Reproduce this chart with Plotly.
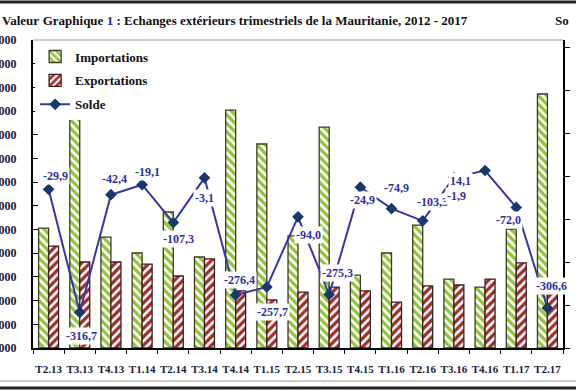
import plotly.graph_objects as go

# ---------------- data ----------------
quarters = ["T2.13", "T3.13", "T4.13", "T1.14", "T2.14", "T3.14", "T4.14", "T1.15", "T2.15",
            "T3.15", "T4.15", "T1.16", "T2.16", "T3.16", "T4.16", "T1.17", "T2.17"]
importations = [50600, 120000, 46800, 40100, 57400, 38400, 100400, 86100, 47300,
                93200, 30800, 40100, 51900, 29100, 25700, 50200, 107200]
exportations = [43000, 36300, 36300, 35400, 30400, 37600, 24100, 20300, 23600,
                25700, 24100, 19400, 26200, 26600, 29100, 35900, 23600]
solde = [-29.9, -316.7, -42.4, -19.1, -107.3, -3.1, -276.4, -257.7, -94.0,
         -275.3, -24.9, -74.9, -103.3, -1.9, 14.1, -72.0, -306.6]

left_tick_values = [0, 10000, 20000, 30000, 40000, 50000, 60000, 70000, 80000,
                    90000, 100000, 110000, 120000, 130000]
left_tick_labels = ["000"] * len(left_tick_values)
right_tick_values = [-400, -300, -200, -100, 0, 100, 200, 300]

# label offsets (pixels) for the Solde value labels
label_dx = [7, 2, 4, 5, 5, 0, 4, 6, 10, 8, 2, 5, 10, 3, -25, -8, 4]
label_dy = [13, -24, 16, 13, -16, -20, 15, -25, -18, 22, -13, 21, 19, -19, -11, -13, 22]

# ---------------- geometry ----------------
W, H = 576, 392
ML, MR, MT, MB = 33, 13, 40, 44
PW, PH = W - ML - MR, H - MT - MB


def px_x(x):
    return (x - ML) / PW


def px_y(y):
    return (H - MB - y) / PH


SERIF = "Liberation Serif"
BLUE_TXT = "#2E2EA0"

fig = go.Figure()

fig.add_trace(go.Bar(
    x=quarters, y=importations, name="Importations", legendgroup="a",
    marker=dict(color="#9CC53A", line=dict(color="#3B3B1E", width=1.3),
                pattern=dict(shape="\\", fillmode="replace", bgcolor="white",
                             fgcolor="#94C23A", size=6, solidity=0.55)),
))
fig.add_trace(go.Bar(
    x=quarters, y=exportations, name="Exportations", legendgroup="b",
    marker=dict(color="#9E2B2B", line=dict(color="#3B1E1E", width=1.3),
                pattern=dict(shape="/", fillmode="replace", bgcolor="white",
                             fgcolor="#A02C2C", size=6, solidity=0.55)),
))
fig.add_trace(go.Scatter(
    x=quarters, y=solde, name="Solde", yaxis="y2", legendgroup="c",
    mode="lines+markers",
    line=dict(color="#3535A8", width=2),
    marker=dict(symbol="diamond", size=9, color="#16386B"),
))

# value labels
for q, v, dx, dy in zip(quarters, solde, label_dx, label_dy):
    fig.add_annotation(
        x=q, y=v, xref="x", yref="y2", text=f"{v:.1f}".replace(".", ","),
        showarrow=False, xshift=dx, yshift=dy, bgcolor="white",
        font=dict(family=SERIF, size=12, color=BLUE_TXT, weight="bold"),
        borderpad=1,
    )

# side captions
fig.add_annotation(x=px_x(0), y=px_y(20), xref="paper", yref="paper", text="Valeur",
                   showarrow=False, xanchor="left", yanchor="middle",
                   font=dict(family=SERIF, size=13, color="#111", weight="bold"))
fig.add_annotation(x=px_x(553), y=px_y(20), xref="paper", yref="paper", text="So",
                   showarrow=False, xanchor="left", yanchor="middle",
                   font=dict(family=SERIF, size=13, color="#111", weight="bold"))

# frame lines
fig.add_shape(type="line", xref="paper", yref="paper", x0=px_x(0), x1=px_x(W),
              y0=px_y(2), y1=px_y(2), line=dict(color="#222", width=3))
fig.add_shape(type="line", xref="paper", yref="paper", x0=px_x(0), x1=px_x(W),
              y0=px_y(381), y1=px_y(381), line=dict(color="#BBBBBB", width=1.5))
fig.add_shape(type="line", xref="paper", yref="paper", x0=px_x(0), x1=px_x(W),
              y0=px_y(388), y1=px_y(388), line=dict(color="#222", width=3))
fig.add_shape(type="line", xref="paper", yref="paper", x0=0, x1=1, y0=1, y1=1,
              line=dict(color="#999999", width=1))

fig.update_layout(
    width=W, height=H,
    margin=dict(l=ML, r=MR, t=MT, b=MB, autoexpand=False),
    paper_bgcolor="white", plot_bgcolor="white",
    barmode="group", bargap=0.36, bargroupgap=0.0,
    title=dict(
        text="Graphique <span style='color:#2424B0'>1</span> : Echanges extérieurs trimestriels de la Mauritanie, 2012 - 2017",
        x=255 / W, xanchor="center", y=1 - 20 / H, yanchor="middle",
        font=dict(family=SERIF, size=13, color="#111", weight="bold"),
    ),
    font=dict(family=SERIF),
    legend=dict(x=0.004, y=0.995, xanchor="left", yanchor="top", bgcolor="white",
                traceorder="grouped", tracegroupgap=4,
                font=dict(family=SERIF, size=13, color="#111", weight="bold")),
    xaxis=dict(
        type="category", range=[-0.5, len(quarters) - 0.5],
        showline=True, linecolor="black", linewidth=2,
        ticks="outside", ticklen=4, tickcolor="black", tickson="boundaries",
        ticklabelstandoff=10, showgrid=False, tickangle=0,
        tickfont=dict(family=SERIF, size=11, color="#1B1B3A", weight="bold"),
    ),
    yaxis=dict(
        range=[0, 130000], tickvals=left_tick_values, ticktext=left_tick_labels,
        showline=True, linecolor="black", linewidth=2,
        ticks="inside", ticklen=5, tickcolor="black", showgrid=False, zeroline=False,
        ticklabelstandoff=12,
        tickfont=dict(family=SERIF, size=12, color="#1B1B3A", weight="bold"),
    ),
    yaxis2=dict(
        overlaying="y", side="right", range=[-400, 318.5], tickvals=right_tick_values,
        showticklabels=False, showline=True, linecolor="black", linewidth=2,
        ticks="outside", ticklen=5, tickcolor="black", showgrid=False, zeroline=False,
    ),
    yaxis3=dict(
        overlaying="y", side="right", range=[-400, 318.5], tickvals=right_tick_values,
        showticklabels=False, showline=False,
        ticks="inside", ticklen=5, tickcolor="black", showgrid=False, zeroline=False,
    ),
)

fig.write_html("out.html", config={"displayModeBar": False},
               post_script="document.body.style.margin='0';document.body.style.overflow='hidden';")
